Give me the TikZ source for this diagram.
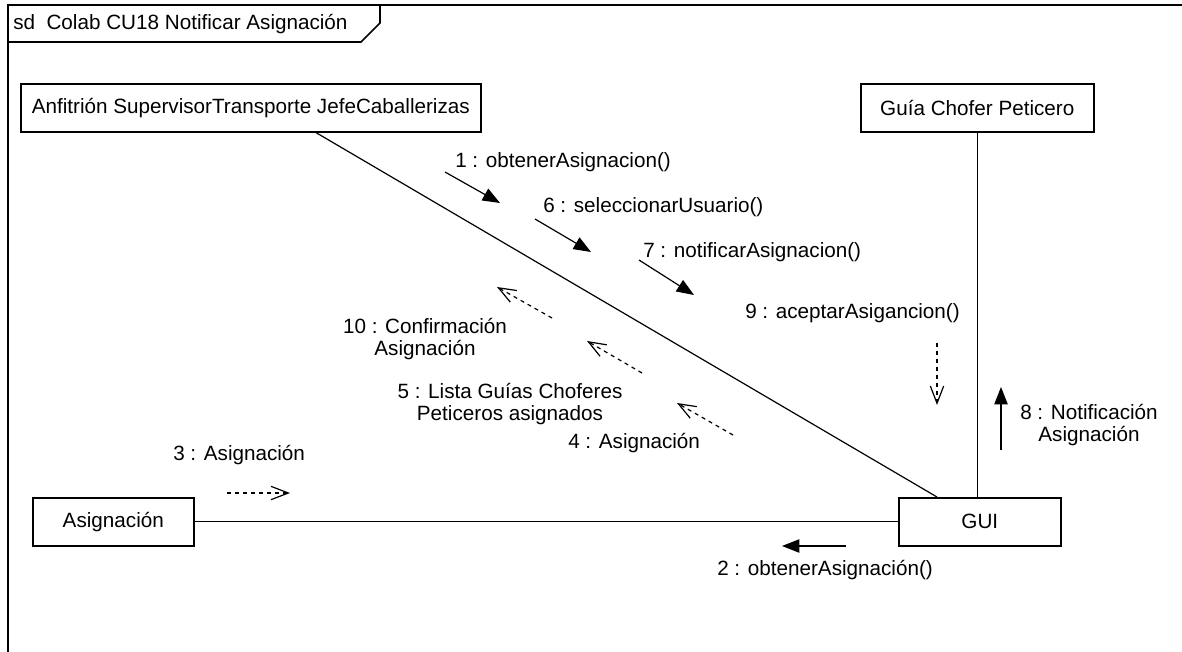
\documentclass[tikz,border=0pt]{standalone}
\usepackage{fontspec}
\setmainfont{Liberation Sans}
\usepackage{tikz}
\usetikzlibrary{arrows.meta, calc}
\newcommand{\umlfont}{\fontsize{15.5}{16.5}\selectfont}
\tikzset{
    lifeline/.style={rectangle, draw=black, line width=1.2pt, inner sep=0pt, minimum height=36pt, anchor=north west, text centered, font=\umlfont},
    msglabel/.style={inner sep=0pt, align=center, font=\umlfont},
    link/.style={line width=0.9pt},
    call/.style={line width=0.9pt, -{Triangle[length=13pt, width=10pt]}},
    reply/.style={line width=0.9pt, dash pattern=on 3pt off 3pt, -{Straight Barb[length=13pt, width=10pt]}}
}

\begin{document}
\begin{tikzpicture}[x=0.75pt, y=-0.75pt]
    \useasboundingbox (0,0) rectangle (1182,652);

    % Frame and title tab
    \draw[line width=1.2pt] (8,652) -- (8,5) -- (1182,5);
    \draw[line width=1.2pt] (8,42) -- (361,42) -- (380,23) -- (380,5);
    \node[anchor=west, inner sep=0pt, font=\umlfont] (title) at (13,24) {sd\ \ Colab CU18 Notificar Asignación};

    % Lifelines
    \node[lifeline, minimum width=345pt] (anf) at (20,83) {Anfitrión SupervisorTransporte JefeCaballerizas};
    \node[lifeline, minimum width=174.75pt] (guia) at (860,83) {Guía Chofer Peticero};
    \node[lifeline, minimum width=120.75pt] (asig) at (32,497) {Asignación};
    \node[lifeline, minimum width=121.5pt] (gui) at (898,497) {GUI};

    % Links
    \draw[link] ($(anf.south west)+(296,0)$) -- ($(gui.north west)+(39,0)$);
    \draw[link] (guia.south) -- (guia.south |- gui.north);
    \draw[link] (asig.east) -- (asig.east -| gui.west);

    % Calls
    \node[msglabel, anchor=west] (m1) at (455,162) {1 : obtenerAsignacion()};
    \draw[call] ($(m1.west)+(-10,10)$) -- ++(55,31);
    \node[msglabel, anchor=west] (m2) at (717,570) {2 : obtenerAsignación()};
    \draw[call] ($(m2.west)+(129,-24)$) -- ++(-64,0);
    \node[msglabel, anchor=west] (m6) at (543,207) {6 : seleccionarUsuario()};
    \draw[call] ($(m6.west)+(-8,12)$) -- ++(56,33);
    \node[msglabel, anchor=west] (m7) at (643,252) {7 : notificarAsignacion()};
    \draw[call] ($(m7.west)+(-4,8)$) -- ++(55,35);
    \node[msglabel] (m8) at (1089,425) {8 : Notificación\\Asignación};
    \draw[call] ($(m8.center)+(-88,25)$) -- ++(0,-63);

    % Replies
    \node[msglabel, anchor=west] (r3) at (173,455) {3 : Asignación};
    \draw[reply] ($(r3.west)+(54,38)$) -- ++(63,0);
    \node[msglabel, anchor=west] (r4) at (568,443) {4 : Asignación};
    \draw[reply] ($(r4.west)+(165,-8)$) -- ++(-56,-32);
    \node[msglabel] (r5) at (510,404) {5 : Lista Guías Choferes\\Peticeros asignados};
    \draw[reply] ($(r5.center)+(132,-31)$) -- ++(-55,-32);
    \node[msglabel, anchor=west] (r9) at (745,313) {9 : aceptarAsigancion()};
    \draw[reply] ($(r9.west)+(192,30)$) -- ++(0,62);
    \node[msglabel] (r10) at (425,339) {10 : Confirmación\\Asignación};
    \draw[reply] ($(r10.center)+(127,-21)$) -- ++(-55,-31);
\end{tikzpicture}
\end{document}
